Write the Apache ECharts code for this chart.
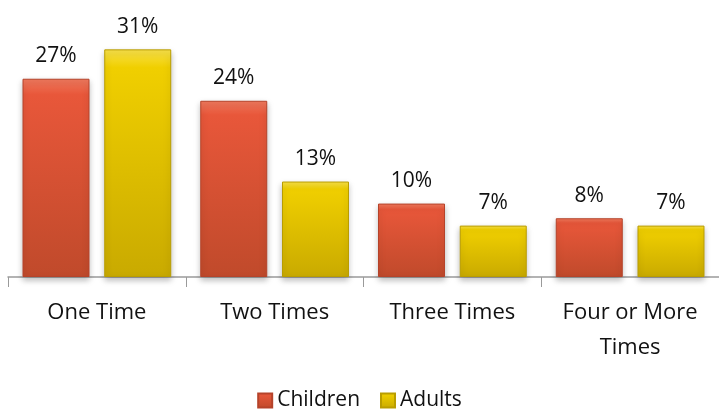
<!DOCTYPE html>
<html><head><meta charset="utf-8">
<script src="https://cdn.jsdelivr.net/npm/echarts@6/dist/echarts.min.js"></script>
<style>html,body{margin:0;padding:0;background:#fff}#c{width:719px;height:411px}</style>
</head><body><div id="c"></div>
<script>
var categories = ['One Time', 'Two Times', 'Three Times', 'Four or More\nTimes'];
var children = [27, 24, 10, 8];
var adults = [31, 13, 7, 7];
var seriesNames = ['Children', 'Adults'];

var FONT = 'Open Sans';
function grad(top, mid, bot) {
  return new echarts.graphic.LinearGradient(0, 0, 0, 1, [
    {offset: 0, color: top}, {offset: 0.08, color: mid}, {offset: 1, color: bot}
  ]);
}
var chart = echarts.init(document.getElementById('c'), null, {renderer: 'canvas'});
var labelStyle = {show: true, position: 'top', distance: 12, formatter: '{c}%', fontFamily: FONT, fontSize: 21, color: '#111'};
chart.setOption({
  animation: false,
  legend: {
    bottom: -5, left: 'center', itemWidth: 14, itemHeight: 14, itemGap: 20,
    icon: 'rect',
    textStyle: {fontFamily: FONT, fontSize: 21, color: '#111'},
    data: seriesNames
  },
  grid: {left: 8, right: 0, top: 20, bottom: 134, containLabel: false},
  xAxis: {
    type: 'category', data: categories,
    axisLine: {lineStyle: {color: '#9a9a9a', width: 1.5}},
    axisTick: {show: true, length: 10, lineStyle: {color: '#9a9a9a'}},
    axisLabel: {fontFamily: FONT, fontSize: 22, color: '#111', margin: 18, lineHeight: 35, interval: 0}
  },
  yAxis: {type: 'value', min: 0, max: 35, show: false, splitLine: {show: false}},
  series: [
    {name: seriesNames[0], type: 'bar', data: children, barWidth: 67, barGap: '22%',
     label: labelStyle,
     itemStyle: {color: grad('#f07a5e', '#e8573a', '#c04a2b'), borderColor: '#b5432a', borderWidth: 1,
       shadowColor: 'rgba(0,0,0,0.25)', shadowBlur: 6, shadowOffsetY: 3}},
    {name: seriesNames[1], type: 'bar', data: adults, barWidth: 67,
     label: labelStyle,
     itemStyle: {color: grad('#f8e14a', '#f0cf00', '#c9aa00'), borderColor: '#b99d00', borderWidth: 1,
       shadowColor: 'rgba(0,0,0,0.25)', shadowBlur: 6, shadowOffsetY: 3}}
  ]
});
</script></body></html>
